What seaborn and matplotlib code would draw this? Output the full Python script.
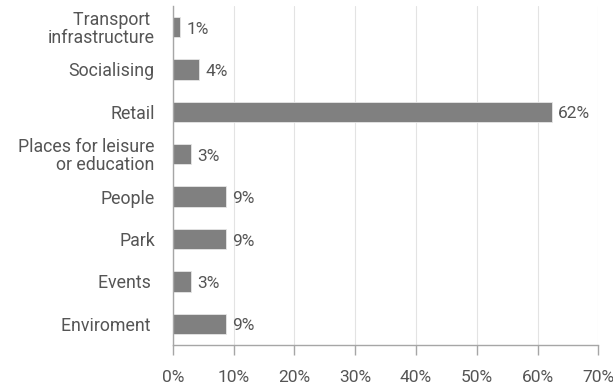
import numpy as np
import pandas as pd
import matplotlib
matplotlib.use("Agg")
import matplotlib.pyplot as plt
import seaborn as sns
from matplotlib.ticker import FuncFormatter

# ----- data -----
categories = ["Transport \ninfrastructure", "Socialising", "Retail",
              "Places for leisure\nor education", "People", "Park",
              "Events ", "Enviroment "]
shares = [1.2, 4.3, 62.4, 3.0, 8.8, 8.8, 3.0, 8.8]
share_labels = ["1%", "4%", "62%", "3%", "9%", "9%", "3%", "9%"]
x_ticks = [0, 10, 20, 30, 40, 50, 60, 70]

df = pd.DataFrame({"category": categories, "share": shares})

sns.set_style("white")
plt.rcParams["font.family"] = ["Roboto", "DejaVu Sans"]

TEXT = "#555555"
AXIS = "#a6a6a6"

fig, ax = plt.subplots(figsize=(6.13, 3.89), dpi=100)
fig.subplots_adjust(left=0.282, right=0.976, top=0.985, bottom=0.113)

sns.barplot(data=df, x="share", y="category", orient="h", color="#808080",
            saturation=1, width=0.48, edgecolor="#e6e6e6", linewidth=0.6, ax=ax)

for i, (v, lab) in enumerate(zip(shares, share_labels)):
    ax.text(v + 1.0, i + 0.05, lab, va="center", ha="left", fontsize=12.5, color=TEXT)

ax.set_xlim(0, 70)
ax.set_ylim(7.5, -0.5)
ax.set_xticks(x_ticks)
ax.xaxis.set_major_formatter(FuncFormatter(lambda x, _: f"{x:.0f}%"))
ax.set_xlabel("")
ax.set_ylabel("")

ax.grid(axis="x", color="#e3e3e3", linewidth=0.8)
ax.set_axisbelow(True)
for side in ["top", "right"]:
    ax.spines[side].set_visible(False)
for side in ["left", "bottom"]:
    ax.spines[side].set_color(AXIS)
    ax.spines[side].set_linewidth(1.0)

ax.tick_params(axis="x", length=7, width=1, color=AXIS, labelcolor=TEXT,
               labelsize=12.5, pad=11, bottom=True)
ax.tick_params(axis="y", length=0, labelsize=12.8, labelcolor=TEXT, pad=13)
for t in ax.get_yticklabels():
    t.set_linespacing(1.0)

fig.savefig("out.png", dpi=100)
